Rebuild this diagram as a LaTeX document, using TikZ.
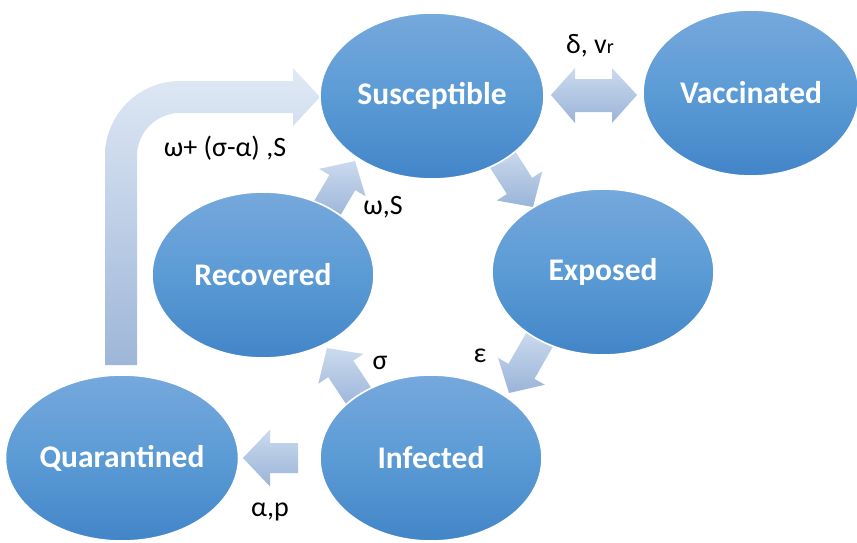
\documentclass[tikz,border=0pt]{standalone}
\usepackage{fontspec}
\setmainfont{Carlito}
\usetikzlibrary{shapes.geometric,calc}
\definecolor{elTop}{RGB}{118,168,220}
\definecolor{elMid}{RGB}{91,155,213}
\definecolor{elBot}{RGB}{66,133,200}
\definecolor{arTop}{RGB}{203,218,238}
\definecolor{arBot}{RGB}{154,180,216}
\definecolor{bgTop}{RGB}{224,233,245}
\definecolor{bgBot}{RGB}{158,182,216}
\tikzset{
  state/.style={ellipse, inner sep=0pt, draw=white, line width=1.6pt,
    top color=elTop, bottom color=elBot, middle color=elMid,
    text=white, font=\bfseries\fontsize{31.5}{36}\selectfont},
  arrfill/.style={top color=arTop, bottom color=arBot},
  bigarr/.style={top color=bgTop, bottom color=bgBot},
  lbl/.style={inner sep=0pt, font=\fontsize{28}{32}\selectfont, text=black}
}
\newcommand\blockarr[5]{%
  \coordinate (bA) at ($(#2)!#5!(#1)$);
  \path[arrfill] ($(#1)!#3!90:(#2)$) -- ($(bA)!#3!-90:(#1)$) -- ($(bA)!#4!-90:(#1)$)
     -- (#2) -- ($(bA)!#4!90:(#1)$) -- ($(bA)!#3!90:(#1)$) -- ($(#1)!#3!-90:(#2)$) -- cycle;}
\begin{document}
\begin{tikzpicture}[x=1pt,y=-1pt]
\useasboundingbox (0,0) rectangle (857,542);
% big bent arrow Quarantined -> Susceptible
\coordinate (qTail) at (121,365);
\coordinate (sIn) at (320,97);
\path[bigarr] (105,365) -- (105,156) .. controls (105,114.6) and (138.6,81) .. (180,81)
  -- (293,81) -- (293,68) -- (sIn) -- (293,126) -- (293,113) -- (180,113)
  .. controls (156.3,113) and (137,132.3) .. (137,156) -- (137,365) -- cycle;
% double arrow Susceptible <-> Vaccinated
\coordinate (dL) at (551,95);
\coordinate (dR) at (637,95);
\path[arrfill] (dL) -- (575,68) -- (575,79) -- (612,79) -- (612,68) -- (dR)
  -- (612,123) -- (612,112) -- (575,112) -- (575,123) -- cycle;
% arrow Infected -> Quarantined
\coordinate (iqTail) at (298,458);
\coordinate (iqTip) at (243,458);
\blockarr{iqTail}{iqTip}{15pt}{28.5pt}{27pt}
% diagonal arrows
\coordinate (rsTail) at (325,212);
\coordinate (rsTip) at (355,161);
\blockarr{rsTail}{rsTip}{15pt}{27pt}{25pt}
\coordinate (seTail) at (501,157);
\coordinate (seTip) at (533,207);
\blockarr{seTail}{seTip}{15pt}{27pt}{25pt}
\coordinate (eiTail) at (540,339);
\coordinate (eiTip) at (509,393);
\blockarr{eiTail}{eiTip}{15pt}{27pt}{25pt}
\coordinate (irTail) at (362,401);
\coordinate (irTip) at (327,348);
\blockarr{irTail}{irTip}{15pt}{27pt}{25pt}
% states
\node[state, minimum width=224pt, minimum height=166pt] (S) at (432,96) {Susceptible};
\node[state, minimum width=216pt, minimum height=166pt] (V) at (751,93) {Vaccinated};
\node[state, minimum width=222pt, minimum height=166pt] (E) at (603,272) {Exposed};
\node[state, minimum width=222pt, minimum height=166pt] (R) at (263,275) {Recovered};
\node[state, minimum width=222pt, minimum height=166pt] (I) at (431,458) {Infected};
\node[state, minimum width=222pt, minimum height=166pt] (Q) at (122,458) {Quarantined};
% labels
\node[lbl] (lv) at (590,46) {δ, v{\fontsize{20}{22}\selectfont r}};
\node[lbl] (lq) at (225,148) {ω+ (σ-α) ,S};
\node[lbl] (lr) at (383,207) {ω,S};
\node[lbl] (ls) at (380,363) {σ};
\node[lbl] (le) at (480,356) {ε};
\node[lbl] (la) at (270,512) {α,p};
\end{tikzpicture}
\end{document}
